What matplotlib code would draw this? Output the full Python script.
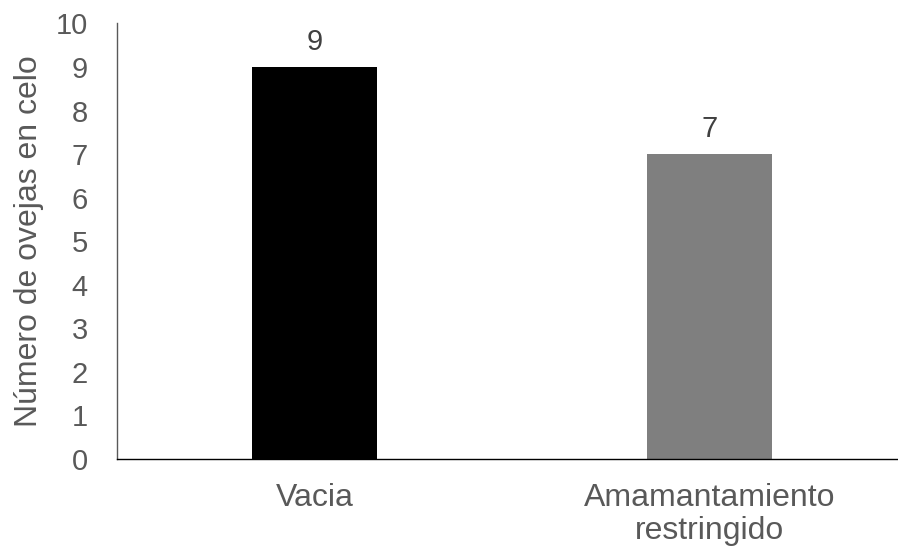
import numpy as np
import matplotlib.pyplot as plt

plt.rcParams['font.family'] = ['Liberation Sans', 'DejaVu Sans']

categorias = ['Vacia', 'Amamantamiento\nrestringido']
ovejas = [9, 7]
colores = ['#000000', '#7f7f7f']

fig = plt.figure(figsize=(8.98, 5.53), dpi=100)
ax = fig.add_axes([0.1303, 0.170, 0.8797, 0.7877])

x = np.arange(len(categorias))
barras = ax.bar(x, ovejas, width=0.316, color=colores)

for b, v in zip(barras, ovejas):
    ax.annotate(str(v), (b.get_x() + b.get_width() / 2, v),
                xytext=(0, 8), textcoords='offset points',
                ha='center', va='bottom', fontsize=21, color='#404040')

ax.set_xlim(-0.5, 1.5)
ax.set_ylim(0, 10)
ax.set_yticks(range(0, 11))
ax.set_xticks(x)
ax.set_xticklabels(categorias, linespacing=1.15)
ax.tick_params(axis='y', length=0, pad=21, labelsize=21, labelcolor='#595959')
ax.tick_params(axis='x', length=0, pad=17, labelsize=23, labelcolor='#595959')

ax.spines['top'].set_visible(False)
ax.spines['right'].set_visible(False)
ax.spines['left'].set_color('#595959')
ax.spines['bottom'].set_color('#000000')
ax.spines['left'].set_linewidth(1.0)
ax.spines['bottom'].set_linewidth(1.0)

ax.set_ylabel('Número de ovejas en celo', fontsize=23, color='#595959')
ax.yaxis.set_label_coords(-0.093, 0.5)

plt.savefig('out.png', dpi=100)
